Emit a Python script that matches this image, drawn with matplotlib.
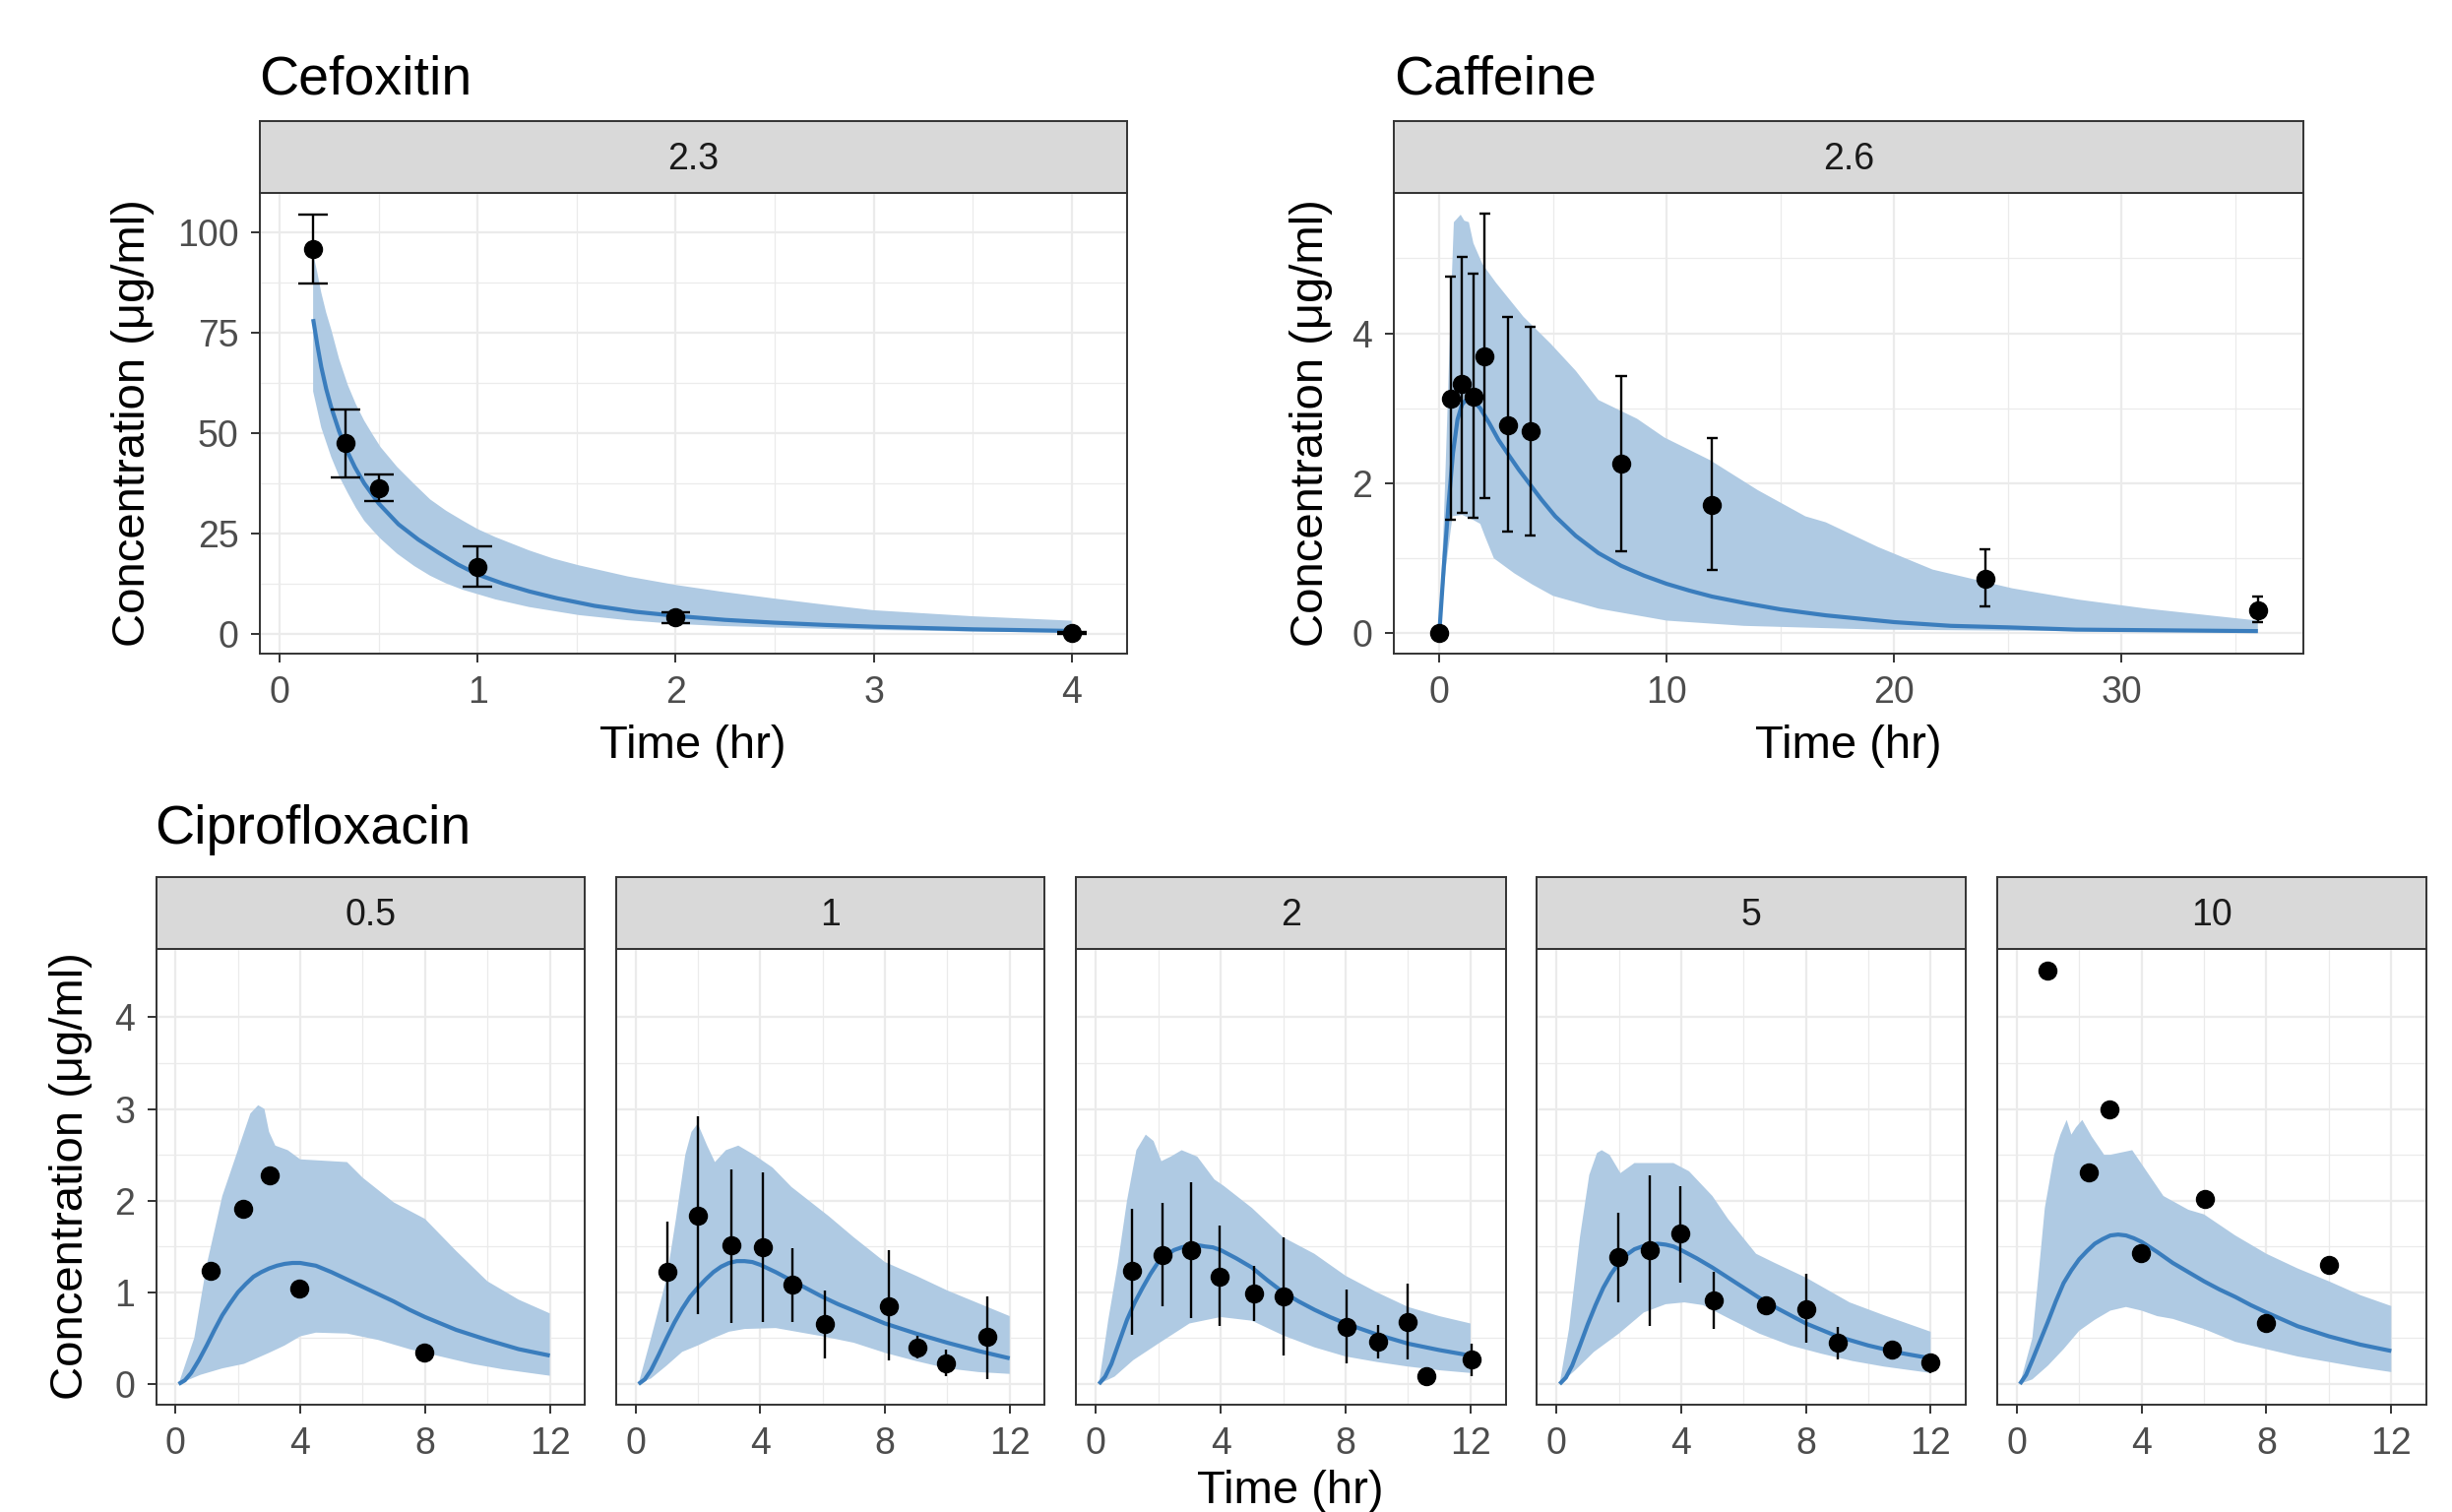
import numpy as np
import matplotlib
matplotlib.use("Agg")
import matplotlib.pyplot as plt

plt.rcParams['font.family'] = ['Liberation Sans', 'DejaVu Sans']

# ---------------- Cefoxitin (dose 2.3) ----------------
cef_t = [0.167, 0.333, 0.5, 1.0, 2.0, 4.0]
cef_c = [95.8, 47.5, 36.3, 16.7, 4.1, 0.3]
cef_lo = [87.2, 38.9, 33.0, 11.8, 2.7, 0.0]
cef_hi = [104.3, 55.9, 39.8, 21.8, 5.3, 0.6]

cef_pred_t = [0.169, 0.19, 0.21, 0.235, 0.26, 0.3, 0.336, 0.38, 0.427, 0.5, 0.6, 0.7, 0.8, 0.9, 1.0,
              1.13, 1.26, 1.4, 1.59, 1.8, 2.0, 2.25, 2.5, 2.75, 3.0, 3.5, 4.0]
cef_pred_c = [78.4, 72.0, 66.5, 61.0, 56.5, 50.5, 46.0, 41.5, 37.5, 32.5, 27.3, 23.5, 20.3, 17.3, 14.8,
              12.5, 10.6, 8.9, 7.0, 5.5, 4.5, 3.5, 2.8, 2.25, 1.8, 1.15, 0.75]
cef_up_t = [0.169, 0.19, 0.21, 0.235, 0.26, 0.3, 0.344, 0.385, 0.427, 0.47, 0.51, 0.593, 0.68, 0.76, 0.84,
            0.925, 1.0, 1.09, 1.26, 1.38, 1.51, 1.76, 2.0, 2.22, 2.5, 2.75, 3.0, 3.5, 4.0]
cef_up_c = [94.7, 90.0, 85.0, 80.0, 75.9, 68.5, 62.0, 57.2, 53.1, 49.6, 46.5, 41.6, 37.3, 33.5, 30.7,
            28.2, 26.1, 24.1, 20.8, 18.8, 17.1, 14.3, 12.2, 10.6, 8.8, 7.3, 5.9, 4.4, 3.3]
cef_dn_t = [0.169, 0.21, 0.26, 0.3, 0.344, 0.385, 0.427, 0.47, 0.51, 0.593, 0.68, 0.76, 0.84, 0.925,
            1.09, 1.26, 1.51, 1.76, 2.0, 2.22, 2.5, 3.0, 3.5, 4.0]
cef_dn_c = [60.4, 51.4, 44.1, 39.3, 35.1, 31.4, 28.2, 25.8, 23.7, 20.0, 16.9, 14.5, 12.6, 11.0,
            8.6, 6.7, 4.7, 3.4, 2.5, 2.0, 1.6, 1.0, 0.6, 0.35]

# ---------------- Caffeine (dose 2.6) ----------------
caf_t = [0, 0.5, 1, 1.5, 2, 3, 4, 8, 12, 24, 36]
caf_c = [0.0, 3.13, 3.32, 3.16, 3.69, 2.78, 2.69, 2.26, 1.71, 0.73, 0.31]
caf_lo = [np.nan, 1.52, 1.61, 1.54, 1.80, 1.36, 1.31, 1.10, 0.84, 0.36, 0.15]
caf_hi = [np.nan, 4.75, 5.02, 4.79, 5.59, 4.22, 4.09, 3.43, 2.60, 1.12, 0.49]

caf_pred_t = [0, 0.2, 0.4, 0.6, 0.8, 1.0, 1.2, 1.5, 1.8, 2.2, 2.6, 3.0, 3.5, 4.0, 4.5, 5.1, 6.0, 7.0,
              8.0, 9.0, 10.0, 11.0, 12.0, 13.5, 15.0, 17.0, 20.0, 22.5, 25.0, 28.0, 32.0, 36.0]
caf_pred_c = [0.0, 0.9, 1.7, 2.4, 2.85, 3.05, 3.12, 3.1, 3.0, 2.8, 2.58, 2.4, 2.18, 1.98, 1.78, 1.56, 1.3, 1.07,
              0.9, 0.77, 0.66, 0.57, 0.49, 0.4, 0.32, 0.24, 0.15, 0.1, 0.08, 0.05, 0.04, 0.03]
caf_up_t = [0, 0.2, 0.37, 0.53, 0.64, 0.94, 1.1, 1.3, 1.5, 1.9, 2.5, 3.7, 4.9, 6.0, 7.0, 8.7, 9.9, 11.9,
            14.0, 16.1, 17.0, 19.3, 21.7, 25.2, 28.1, 31.1, 36.0]
caf_up_c = [0.0, 1.5, 3.07, 4.57, 5.48, 5.58, 5.5, 5.48, 5.2, 4.92, 4.67, 4.22, 3.86, 3.5, 3.11, 2.86, 2.61, 2.31,
            1.91, 1.56, 1.48, 1.15, 0.85, 0.6, 0.45, 0.33, 0.17]
caf_dn_t = [0, 0.3, 0.58, 1.0, 1.5, 1.8, 2.0, 2.4, 3.3, 4.1, 5.0, 7.0, 10.0, 13.4, 19.3, 36.0]
caf_dn_c = [0.0, 0.9, 1.56, 1.58, 1.51, 1.46, 1.3, 1.0, 0.8, 0.65, 0.5, 0.33, 0.17, 0.1, 0.05, 0.01]

# ---------------- Ciprofloxacin (doses 0.5, 1, 2, 5, 10) ----------------
cip_doses = ['0.5', '1', '2', '5', '10']
cip_pred_grid = [0.1, 0.3, 0.5, 0.75, 1, 1.25, 1.5, 1.75, 2, 2.25, 2.5, 2.75, 3, 3.25, 3.5, 3.75, 4,
                 4.5, 5, 5.5, 6, 6.5, 7, 7.5, 8, 9, 10, 11, 12]

cip05_t = [1.13, 2.16, 3.02, 3.97, 7.98]
cip05_c = [1.23, 1.91, 2.28, 1.04, 0.34]
cip05_lo = [np.nan] * 5
cip05_hi = [np.nan] * 5
cip05_pred_c = [0.0, 0.04, 0.12, 0.26, 0.42, 0.59, 0.75, 0.88, 1.0, 1.09, 1.17, 1.22, 1.26, 1.29, 1.31, 1.32, 1.32,
                1.29, 1.22, 1.14, 1.06, 0.98, 0.9, 0.81, 0.73, 0.59, 0.48, 0.38, 0.31]
cip05_up_t = [0.1, 0.6, 1.0, 1.5, 2.0, 2.4, 2.65, 2.85, 3.0, 3.2, 3.6, 4.0, 5.5, 6.0, 7.0, 8.0, 9.0, 10.0, 11.0, 12.0]
cip05_up_c = [0.0, 0.5, 1.3, 2.05, 2.55, 2.95, 3.04, 3.0, 2.75, 2.6, 2.55, 2.45, 2.42, 2.25, 1.98, 1.8, 1.45, 1.12, 0.92, 0.77]
cip05_dn_t = [0.1, 0.8, 1.5, 2.2, 3.0, 3.5, 4.0, 4.5, 5.5, 6.5, 7.5, 8.5, 9.5, 10.5, 12.0]
cip05_dn_c = [0.0, 0.1, 0.17, 0.22, 0.34, 0.42, 0.52, 0.56, 0.55, 0.48, 0.38, 0.3, 0.22, 0.16, 0.09]

cip1_t = [1.04, 2.01, 3.09, 4.08, 5.03, 6.07, 8.12, 9.05, 9.96, 11.27]
cip1_c = [1.22, 1.84, 1.51, 1.49, 1.08, 0.65, 0.85, 0.40, 0.23, 0.51]
cip1_lo = [0.68, 0.76, 0.67, 0.68, 0.68, 0.28, 0.26, 0.28, 0.09, 0.05]
cip1_hi = [1.77, 2.92, 2.34, 2.31, 1.48, 1.02, 1.46, 0.53, 0.37, 0.95]
cip1_pred_c = [0.0, 0.05, 0.15, 0.32, 0.5, 0.67, 0.82, 0.95, 1.05, 1.14, 1.22, 1.28, 1.32, 1.34, 1.34, 1.33, 1.3,
               1.22, 1.13, 1.04, 0.95, 0.87, 0.8, 0.73, 0.66, 0.55, 0.45, 0.36, 0.28]
cip1_up_t = [0.1, 0.5, 1.0, 1.3, 1.6, 1.8, 2.0, 2.3, 2.55, 2.9, 3.3, 3.8, 4.4, 5.0, 6.2, 7.0, 8.0, 9.0, 10.0, 11.0, 12.0]
cip1_up_c = [0.0, 0.5, 1.15, 1.8, 2.5, 2.75, 2.84, 2.6, 2.42, 2.55, 2.6, 2.5, 2.36, 2.15, 1.83, 1.6, 1.33, 1.18, 1.02, 0.88, 0.74]
cip1_dn_t = [0.1, 0.5, 1, 1.5, 2, 2.5, 3, 3.5, 4.5, 5, 6, 7, 8, 9, 10, 11, 12]
cip1_dn_c = [0.0, 0.06, 0.2, 0.35, 0.42, 0.5, 0.57, 0.6, 0.61, 0.58, 0.52, 0.45, 0.34, 0.25, 0.17, 0.13, 0.11]

cip2_t = [1.16, 2.15, 3.05, 3.95, 5.08, 6.02, 8.04, 9.05, 9.99, 10.57, 12.05]
cip2_c = [1.23, 1.41, 1.46, 1.17, 0.99, 0.96, 0.62, 0.46, 0.68, 0.09, 0.27]
cip2_lo = [0.54, 0.85, 0.72, 0.63, 0.69, 0.31, 0.22, 0.28, 0.27, np.nan, 0.09]
cip2_hi = [1.91, 1.97, 2.20, 1.73, 1.29, 1.60, 1.03, 0.64, 1.09, np.nan, 0.44]
cip2_pred_c = [0.0, 0.08, 0.22, 0.46, 0.7, 0.89, 1.05, 1.2, 1.33, 1.4, 1.46, 1.49, 1.51, 1.515, 1.5, 1.49, 1.46,
               1.37, 1.27, 1.13, 1.0, 0.9, 0.81, 0.73, 0.66, 0.54, 0.44, 0.37, 0.31]
cip2_up_t = [0.1, 0.4, 0.7, 1.0, 1.3, 1.6, 1.85, 2.1, 2.4, 2.75, 3.25, 3.8, 4.1, 5.0, 6.0, 7.0, 8.0, 9.0, 10.0, 11.0, 12.0]
cip2_up_c = [0.0, 0.7, 1.3, 2.0, 2.55, 2.72, 2.65, 2.43, 2.48, 2.55, 2.48, 2.23, 2.16, 1.92, 1.6, 1.42, 1.18, 1.0, 0.84, 0.74, 0.66]
cip2_dn_t = [0.1, 0.6, 1.2, 2, 3, 4, 5, 6, 7, 8, 9, 10, 11, 12]
cip2_dn_c = [0.0, 0.08, 0.26, 0.44, 0.66, 0.73, 0.69, 0.53, 0.4, 0.3, 0.24, 0.19, 0.15, 0.12]

cip5_t = [1.97, 2.98, 3.96, 5.03, 6.73, 8.0, 9.03, 10.76, 12.0]
cip5_c = [1.38, 1.46, 1.64, 0.91, 0.86, 0.82, 0.45, 0.38, 0.24]
cip5_lo = [0.89, 0.63, 1.11, 0.60, np.nan, 0.45, 0.27, np.nan, 0.12]
cip5_hi = [1.87, 2.28, 2.16, 1.22, np.nan, 1.20, 0.62, np.nan, 0.32]
cip5_pred_c = [0.0, 0.07, 0.2, 0.42, 0.65, 0.86, 1.05, 1.2, 1.32, 1.41, 1.47, 1.5, 1.52, 1.53, 1.52, 1.5, 1.46,
               1.37, 1.27, 1.16, 1.05, 0.94, 0.84, 0.75, 0.66, 0.52, 0.42, 0.34, 0.28]
cip5_up_t = [0.1, 0.4, 0.75, 1.05, 1.3, 1.45, 1.7, 2.05, 2.5, 3.75, 4.25, 5.0, 5.5, 6.4, 7.0, 8.0, 9.4, 10.5, 12.0]
cip5_up_c = [0.0, 0.6, 1.6, 2.28, 2.52, 2.55, 2.5, 2.3, 2.41, 2.41, 2.32, 2.05, 1.8, 1.42, 1.32, 1.16, 0.89, 0.75, 0.57]
cip5_dn_t = [0.1, 0.6, 1.2, 2.0, 2.8, 3.5, 4.1, 4.7, 5.5, 6.5, 7.5, 8.5, 9.5, 10.5, 12.0]
cip5_dn_c = [0.0, 0.15, 0.35, 0.55, 0.78, 0.87, 0.89, 0.86, 0.72, 0.55, 0.42, 0.33, 0.25, 0.19, 0.12]

cip10_t = [0.97, 2.31, 2.98, 3.98, 6.02, 7.99, 9.99]
cip10_c = [4.51, 2.31, 3.0, 1.43, 2.02, 0.67, 1.30]
cip10_lo = [np.nan] * 7
cip10_hi = [np.nan] * 7
cip10_pred_c = [0.0, 0.1, 0.26, 0.47, 0.68, 0.9, 1.1, 1.24, 1.36, 1.45, 1.53, 1.58, 1.62, 1.63, 1.62, 1.59, 1.55,
                1.44, 1.32, 1.22, 1.12, 1.03, 0.95, 0.86, 0.78, 0.63, 0.52, 0.43, 0.36]
cip10_up_t = [0.1, 0.5, 0.7, 0.9, 1.2, 1.4, 1.6, 1.75, 1.9, 2.1, 2.4, 2.8, 3.0, 3.7, 4.2, 4.7, 5.5, 6.0, 7.0, 8.0, 9.0, 10.0, 11.0, 12.0]
cip10_up_c = [0.0, 0.5, 1.2, 1.92, 2.5, 2.72, 2.88, 2.72, 2.8, 2.88, 2.7, 2.5, 2.5, 2.55, 2.3, 2.05, 1.9, 1.85, 1.62, 1.42, 1.26, 1.12, 0.97, 0.85]
cip10_dn_t = [0.1, 0.5, 1, 1.5, 2, 2.5, 3, 3.5, 4, 4.5, 5, 6, 7, 8, 9, 10, 11, 12]
cip10_dn_c = [0.0, 0.05, 0.2, 0.38, 0.58, 0.7, 0.8, 0.84, 0.8, 0.74, 0.71, 0.6, 0.46, 0.38, 0.3, 0.24, 0.18, 0.13]

cip_obs = [(cip05_t, cip05_c, cip05_lo, cip05_hi), (cip1_t, cip1_c, cip1_lo, cip1_hi),
           (cip2_t, cip2_c, cip2_lo, cip2_hi), (cip5_t, cip5_c, cip5_lo, cip5_hi),
           (cip10_t, cip10_c, cip10_lo, cip10_hi)]
cip_pred = [cip05_pred_c, cip1_pred_c, cip2_pred_c, cip5_pred_c, cip10_pred_c]
cip_band = [(cip05_up_t, cip05_up_c, cip05_dn_t, cip05_dn_c), (cip1_up_t, cip1_up_c, cip1_dn_t, cip1_dn_c),
            (cip2_up_t, cip2_up_c, cip2_dn_t, cip2_dn_c), (cip5_up_t, cip5_up_c, cip5_dn_t, cip5_dn_c),
            (cip10_up_t, cip10_up_c, cip10_dn_t, cip10_dn_c)]

# ---------------- styling ----------------
W, H = 2491, 1536
BAND = '#AFCAE3'
LINE = '#3A7DBD'
GRID = '#EBEBEB'
EDGE = '#333333'
TICKC = '#4D4D4D'

fig = plt.figure(figsize=(W / 100, H / 100), dpi=100)


def px_axes(left, top, right, bottom):
    return fig.add_axes([left / W, 1 - bottom / H, (right - left) / W, (bottom - top) / H])


def strip(left, top, right, bottom, label):
    s = px_axes(left, top, right, bottom)
    s.set_facecolor('#D9D9D9')
    s.set_xticks([])
    s.set_yticks([])
    for sp in s.spines.values():
        sp.set_color(EDGE)
        sp.set_linewidth(1.4)
    s.text(0.5, 0.47, label, transform=s.transAxes, ha='center', va='center',
           fontsize=27, color='#1A1A1A')


def panel(box, xlim, ylim, xmaj, xmin, ymaj, ymin, show_y=True):
    ax = px_axes(*box)
    ax.set_xlim(*xlim)
    ax.set_ylim(*ylim)
    ax.set_xticks(xmaj)
    ax.set_xticks(xmin, minor=True)
    ax.set_yticks(ymaj)
    ax.set_yticks(ymin, minor=True)
    ax.grid(True, which='major', color=GRID, lw=1.6, zorder=0)
    ax.grid(True, which='minor', color=GRID, lw=0.9, zorder=0)
    ax.set_axisbelow(True)
    ax.tick_params(which='minor', length=0)
    ax.tick_params(which='major', length=6.5, width=1.4, color=EDGE, labelsize=27,
                   labelcolor=TICKC, pad=9)
    if not show_y:
        ax.tick_params(axis='y', which='major', length=0, labelleft=False)
    for sp in ax.spines.values():
        sp.set_color(EDGE)
        sp.set_linewidth(1.4)
    return ax


def draw(ax, up_t, up_c, dn_t, dn_c, pr_t, pr_c, t, c, lo, hi, cap):
    ax.fill(list(up_t) + list(dn_t)[::-1], list(up_c) + list(dn_c)[::-1],
            color=BAND, lw=0, zorder=1)
    ax.plot(pr_t, pr_c, color=LINE, lw=3.0, zorder=2, solid_capstyle='butt',
            solid_joinstyle='round')
    t = np.asarray(t, float)
    lo = np.asarray(lo, float)
    hi = np.asarray(hi, float)
    ok = ~np.isnan(lo)
    ax.vlines(t[ok], lo[ok], hi[ok], color='black', lw=1.7, zorder=3)
    if cap > 0:
        ax.hlines(lo[ok], t[ok] - cap, t[ok] + cap, color='black', lw=1.7, zorder=3)
        ax.hlines(hi[ok], t[ok] - cap, t[ok] + cap, color='black', lw=1.7, zorder=3)
    ax.plot(t, c, 'o', color='black', ms=13, zorder=4)


# Cefoxitin
ax1 = panel((264, 196, 1145, 664), (-0.1, 4.28), (-4.9, 109.8),
            [0, 1, 2, 3, 4], [0.5, 1.5, 2.5, 3.5], [0, 25, 50, 75, 100], [12.5, 37.5, 62.5, 87.5])
draw(ax1, cef_up_t, cef_up_c, cef_dn_t, cef_dn_c, cef_pred_t, cef_pred_c,
     cef_t, cef_c, cef_lo, cef_hi, cap=0.074)
strip(264, 123, 1145, 196, '2.3')
fig.text(263, H - 95, 'Cefoxitin', transform=None, fontsize=40, ha='left', va='baseline')
fig.text(704, H - 770, 'Time (hr)', transform=None, fontsize=34, ha='center', va='baseline')
fig.text(135, H - 430, 'Concentration (μg/ml)', transform=None, fontsize=34,
         ha='center', va='center', rotation=90)

# Caffeine
ax2 = panel((1416, 196, 2340, 664), (-2.0, 38.0), (-0.27, 5.87),
            [0, 10, 20, 30], [5, 15, 25, 35], [0, 2, 4], [1, 3, 5])
draw(ax2, caf_up_t, caf_up_c, caf_dn_t, caf_dn_c, caf_pred_t, caf_pred_c,
     caf_t, caf_c, caf_lo, caf_hi, cap=0.24)
strip(1416, 123, 2340, 196, '2.6')
fig.text(1416, H - 95, 'Caffeine', transform=None, fontsize=40, ha='left', va='baseline')
fig.text(1878, H - 770, 'Time (hr)', transform=None, fontsize=34, ha='center', va='baseline')
fig.text(1332, H - 430, 'Concentration (μg/ml)', transform=None, fontsize=34,
         ha='center', va='center', rotation=90)

# Ciprofloxacin
cip_boxes = [(158.5, 594.2), (625.7, 1061.4), (1093.4, 1529.6), (1561.5, 1997.0), (2029.0, 2465.0)]
for i, (l, r) in enumerate(cip_boxes):
    ax = panel((l, 964, r, 1427), (-0.625, 13.125), (-0.226, 4.745),
               [0, 4, 8, 12], [2, 6, 10], [0, 1, 2, 3, 4], [0.5, 1.5, 2.5, 3.5], show_y=(i == 0))
    up_t, up_c, dn_t, dn_c = cip_band[i]
    t, c, lo, hi = cip_obs[i]
    draw(ax, up_t, up_c, dn_t, dn_c, cip_pred_grid, cip_pred[i], t, c, lo, hi, cap=0)
    strip(l, 891, r, 964, cip_doses[i])
fig.text(157, H - 857, 'Ciprofloxacin', transform=None, fontsize=40, ha='left', va='baseline')
fig.text(1311, H - 1527, 'Time (hr)', transform=None, fontsize=34, ha='center', va='baseline')
fig.text(72, H - 1195, 'Concentration (μg/ml)', transform=None, fontsize=34,
         ha='center', va='center', rotation=90)

fig.savefig('out.png', dpi=100)
